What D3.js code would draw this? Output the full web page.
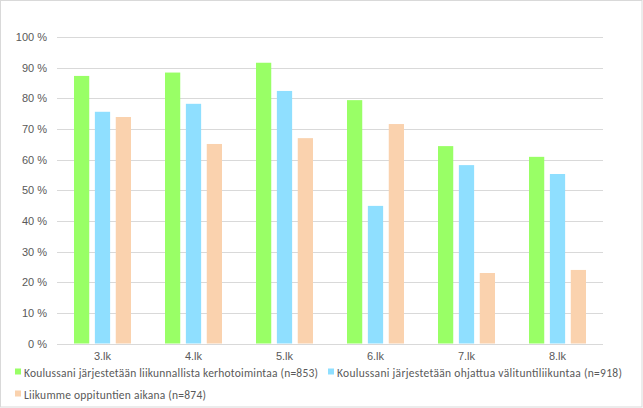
<!DOCTYPE html>
<html><head><meta charset="utf-8">
<script src="https://cdn.jsdelivr.net/npm/d3@7"></script>
<style>body{margin:0;background:#fff}svg{display:block}</style>
</head><body>
<script>
const categories = ["3.lk","4.lk","5.lk","6.lk","7.lk","8.lk"];
const seriesNames = [
  "Koulussani järjestetään liikunnallista kerhotoimintaa (n=853)",
  "Koulussani järjestetään ohjattua välituntiliikuntaa (n=918)",
  "Liikumme oppituntien aikana (n=874)"
];
const kerho = [87.3, 88.4, 91.6, 79.4, 64.4, 60.9];
const valitunti = [75.6, 78.2, 82.4, 44.9, 58.2, 55.3];
const oppitunti = [73.9, 65.1, 67.0, 71.6, 23.0, 24.0];
const yTicks = [0,10,20,30,40,50,60,70,80,90,100];
const colors = ["#99FF66","#8FDFFF","#FAD2AE"];
const series = [kerho, valitunti, oppitunti];

(function(){
const W = 643, H = 408;
const svg = d3.select("body").append("svg").attr("width", W).attr("height", H)
  .style("font-family", "Carlito, Lato, 'Open Sans', sans-serif");
svg.append("rect").attr("x",0.5).attr("y",0.5).attr("width",W-1.5).attr("height",H-1.5)
  .attr("fill","#fff").attr("stroke","#d9d9d9");

const mL = 57, mR = 603, mT = 37, mB = 343.5;
const x = d3.scaleBand().domain(categories).range([mL, mR]);
const xs = d3.scaleBand().domain([0,1,2]).range([0, 57]).paddingInner(0.27);
const y = d3.scaleLinear().domain([0,100]).range([mB, mT]);

const grid = svg.append("g");
grid.selectAll("line").data(yTicks).join("line")
  .attr("x1", mL).attr("x2", mR)
  .attr("y1", d => Math.round(y(d))+0.5).attr("y2", d => Math.round(y(d))+0.5)
  .attr("stroke","#d9d9d9").attr("stroke-width",1);

const yAxis = svg.append("g").attr("transform", `translate(${mL},0)`)
  .call(d3.axisLeft(y).tickValues(yTicks).tickSize(0).tickPadding(10).tickFormat(d => d + " %"));
yAxis.select(".domain").remove();
yAxis.selectAll("text").attr("fill","#595959").style("font-size","11px");

categories.forEach((c, i) => {
  const g = svg.append("g").attr("transform", `translate(${x(c) + x.bandwidth()/2 - 28.5},0)`);
  series.forEach((s, j) => {
    g.append("rect").attr("x", xs(j)).attr("width", xs.bandwidth())
      .attr("y", y(s[i])).attr("height", y(0) - y(s[i])).attr("fill", colors[j]);
  });
});

const xAxis = svg.append("g").attr("transform", `translate(0,${mB})`)
  .call(d3.axisBottom(x).tickSize(0).tickPadding(9));
xAxis.select(".domain").remove();
xAxis.selectAll("text").attr("fill","#595959").style("font-size","11px");

const legendPos = [[15, 367], [328, 367], [15, 389]];
const legendLen = [294, 285, 182];
seriesNames.forEach((n, j) => {
  const g = svg.append("g").attr("transform", `translate(${legendPos[j][0]},${legendPos[j][1]})`);
  g.append("rect").attr("width",6).attr("height",6).attr("y",1.5).attr("fill",colors[j]);
  g.append("text").attr("x",9).attr("y",9.5).text(n).attr("fill","#595959").style("font-size","11.5px")
    .attr("textLength", legendLen[j]).attr("lengthAdjust","spacing");
});
})();
</script>
</body></html>
